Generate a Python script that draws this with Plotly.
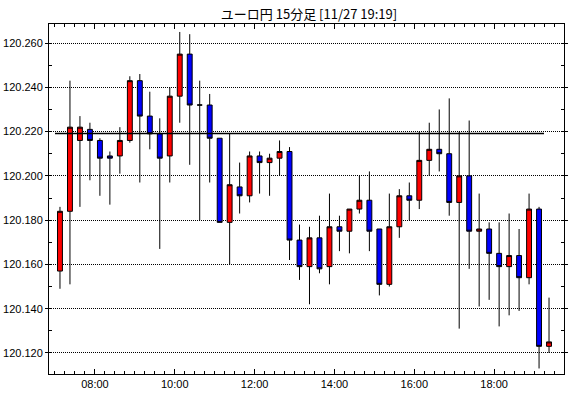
import pandas as pd
import plotly.graph_objects as go

times = ["07:00","07:15","07:30","07:45","08:00","08:15","08:30","08:45",
         "09:00","09:15","09:30","09:45","10:00","10:15","10:30","10:45",
         "11:00","11:15","11:30","11:45","12:00","12:15","12:30","12:45",
         "13:00","13:15","13:30","13:45","14:00","14:15","14:30","14:45",
         "15:00","15:15","15:30","15:45","16:00","16:15","16:30","16:45",
         "17:00","17:15","17:30","17:45","18:00","18:15","18:30","18:45",
         "19:00","19:15"]
opens = [120.157,120.184,120.216,120.221,120.216,120.209,120.209,120.216,
         120.243,120.227,120.219,120.209,120.236,120.255,120.232,120.232,
         120.217,120.179,120.195,120.191,120.209,120.206,120.208,120.211,
         120.171,120.159,120.172,120.159,120.177,120.175,120.185,120.189,
         120.176,120.151,120.177,120.191,120.189,120.207,120.212,120.210,
         120.188,120.200,120.175,120.176,120.165,120.159,120.164,120.154,
         120.185,120.123]
highs = [120.186,120.243,120.227,120.224,120.217,120.211,120.222,120.245,
         120.246,120.238,120.226,120.240,120.265,120.264,120.243,120.237,
         120.217,120.219,120.206,120.211,120.211,120.210,120.216,120.213,
         120.178,120.177,120.182,120.192,120.182,120.185,120.200,120.202,
         120.176,120.192,120.194,120.197,120.220,120.224,120.230,120.235,
         120.220,120.225,120.192,120.179,120.179,120.183,120.176,120.192,
         120.186,120.145]
lows = [120.149,120.151,120.186,120.198,120.191,120.187,120.201,120.215,
        120.197,120.212,120.167,120.197,120.224,120.205,120.180,120.197,
        120.179,120.160,120.183,120.188,120.192,120.191,120.200,120.162,
        120.153,120.142,120.156,120.151,120.166,120.165,120.183,120.166,
        120.146,120.150,120.172,120.180,120.185,120.200,120.202,120.182,
        120.131,120.158,120.141,120.144,120.132,120.137,120.139,120.151,
        120.113,120.120]
closes = [120.184,120.222,120.222,120.216,120.208,120.208,120.216,120.243,
          120.227,120.219,120.208,120.236,120.255,120.232,120.232,120.217,
          120.179,120.196,120.191,120.209,120.206,120.208,120.211,120.171,
          120.159,120.172,120.158,120.177,120.175,120.185,120.189,120.175,
          120.151,120.177,120.191,120.189,120.207,120.212,120.210,120.188,
          120.200,120.175,120.176,120.165,120.159,120.164,120.154,120.185,
          120.123,120.125]
ref_level = 120.2191
ref_span = ["07:00", "19:15"]
y_ticks = [120.120,120.140,120.160,120.180,120.200,120.220,120.240,120.260]
title_text = "ユーロ円 15分足 [11/27 19:19]"

day = "2023-11-27 "
x = pd.to_datetime([day + t for t in times]) + pd.Timedelta(minutes=7.5)
ref_x = pd.to_datetime([day + t for t in ref_span])

fig = go.Figure()
fig.add_trace(go.Candlestick(
    x=x, open=opens, high=highs, low=lows, close=closes,
    increasing=dict(line=dict(color="black", width=1), fillcolor="#ff0000"),
    decreasing=dict(line=dict(color="black", width=1), fillcolor="#0000ff"),
    whiskerwidth=0, showlegend=False, hoverinfo="skip"))
fig.add_trace(go.Scatter(x=ref_x, y=[ref_level, ref_level], mode="lines",
                         line=dict(color="black", width=1.5),
                         showlegend=False, hoverinfo="skip"))

tickfont = dict(family="Liberation Sans", size=11, color="black")
fig.update_layout(
    width=570, height=398,
    margin=dict(l=49, r=6, t=24, b=24, autoexpand=False),
    paper_bgcolor="white", plot_bgcolor="white",
    title=dict(text=title_text, x=309/570, xanchor="center", xref="container",
               y=1-14.5/398, yanchor="middle", yref="container",
               font=dict(family="Noto Sans CJK JP", size=13, color="black")),
    xaxis=dict(
        type="date", automargin=False,
        range=[pd.Timestamp(day + "06:51"), pd.Timestamp(day + "19:45")],
        tickformat="%H:%M", dtick=2*3600*1000,
        tick0=pd.Timestamp(day + "08:00"),
        ticks="inside", ticklen=5, tickcolor="black",
        minor=dict(dtick=15*60*1000, ticks="inside", ticklen=3, tickcolor="black", showgrid=False),
        showgrid=False, zeroline=False,
        showline=True, linecolor="black", linewidth=1, mirror="allticks",
        rangeslider=dict(visible=False), tickfont=tickfont,
    ),
    yaxis=dict(
        automargin=False,
        range=[120.1105, 120.2686],
        tickvals=y_ticks, tickformat=".3f",
        ticks="outside", ticklen=3, tickcolor="black",
        minor=dict(dtick=0.01, tick0=120.11, ticks="inside", ticklen=3, tickcolor="black", showgrid=False),
        showgrid=True, gridcolor="black", gridwidth=1, griddash="1px,1px",
        zeroline=False,
        showline=True, linecolor="black", linewidth=1, mirror="allticks",
        tickfont=tickfont,
    ),
)
fig.write_html("out.html")
